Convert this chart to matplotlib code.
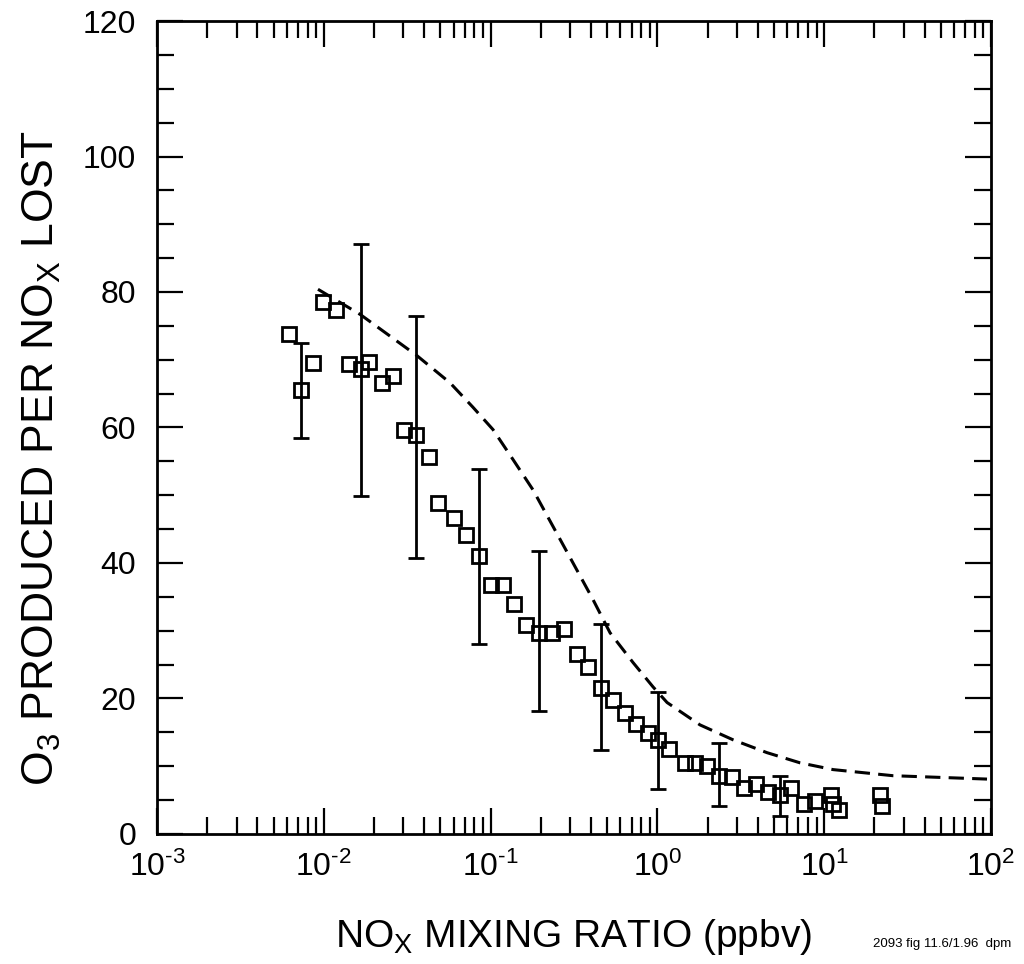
import numpy as np
import matplotlib
matplotlib.use("Agg")
import matplotlib.pyplot as plt
from matplotlib.ticker import LogLocator, MultipleLocator, NullFormatter

plt.rcParams['font.family'] = ['Liberation Sans', 'DejaVu Sans']
plt.rcParams['mathtext.fontset'] = 'custom'
plt.rcParams['mathtext.rm'] = 'Liberation Sans'
plt.rcParams['mathtext.it'] = 'Liberation Sans'
plt.rcParams['mathtext.default'] = 'regular'

# observed O3 production efficiency (squares)
nox_obs = [0.0062, 0.0073, 0.0086, 0.0099, 0.0118, 0.0142, 0.0167, 0.0187, 0.0223, 0.026,
           0.0303, 0.0357, 0.0428, 0.0484, 0.0604, 0.0713, 0.0853, 0.1005, 0.1187, 0.138,
           0.163, 0.195, 0.233, 0.275, 0.33, 0.384, 0.459, 0.542, 0.64, 0.745,
           0.88, 1.01, 1.17, 1.46, 1.68, 1.98, 2.34, 2.8, 3.3, 3.9,
           4.6, 5.43, 6.3, 7.57, 8.8, 11.0, 11.3, 12.3, 21.6, 22.2]
eff_obs = [73.8, 65.5, 69.5, 78.5, 77.4, 69.4, 68.6, 69.7, 66.6, 67.6,
           59.6, 58.9, 55.6, 48.8, 46.6, 44.1, 41.0, 36.7, 36.7, 33.9,
           30.8, 29.6, 29.6, 30.2, 26.6, 24.7, 21.6, 19.8, 17.9, 16.3,
           14.9, 13.8, 12.6, 10.5, 10.5, 10.1, 8.6, 8.4, 6.8, 7.4,
           6.2, 5.8, 6.8, 4.4, 4.9, 5.8, 4.4, 3.55, 5.8, 4.1]

# error bars
nox_err = [0.0073, 0.0167, 0.0357, 0.0853, 0.195, 0.459, 1.01, 2.34, 5.43]
eff_err = [65.5, 68.5, 58.6, 41.0, 30.0, 21.7, 13.8, 8.8, 5.6]
err_half = [7.0, 18.6, 17.9, 12.9, 11.8, 9.3, 7.1, 4.7, 2.9]

# model curve (dashed)
nox_model = [0.00923, 0.0165, 0.0362, 0.0571, 0.0783, 0.1033, 0.136, 0.1795, 0.2366, 0.312,
             0.411, 0.52, 0.7145, 0.942, 1.143, 1.8, 2.84, 4.54, 7.16, 11.3,
             25.8, 94.6]
eff_model = [80.4, 76.7, 70.6, 66.6, 63.0, 59.7, 55.3, 50.8, 45.4, 40.0,
             34.6, 29.7, 25.3, 21.7, 19.4, 16.1, 13.9, 12.0, 10.5, 9.5,
             8.6, 8.1]

fig = plt.figure(figsize=(10.24, 9.64), dpi=100)
ax = fig.add_axes([0.1533, 0.1349, 0.8145, 0.8433])

ax.plot(nox_model, eff_model, color='black', lw=2.2, linestyle=(0, (5, 2.7)))
ax.errorbar(nox_err, eff_err, yerr=err_half, fmt='none', ecolor='black',
            elinewidth=2.0, capsize=5.5, capthick=2.0)
ax.plot(nox_obs, eff_obs, linestyle='none', marker='s', markersize=10,
        markerfacecolor='none', markeredgecolor='black', markeredgewidth=2.0)

ax.set_xscale('log')
ax.set_xlim(1e-3, 1e2)
ax.set_ylim(0, 120)
ax.set_xticks([1e-3, 1e-2, 1e-1, 1e0, 1e1, 1e2])
ax.set_xticklabels([r'$10^{\text{-}3}$', r'$10^{\text{-}2}$', r'$10^{\text{-}1}$',
                    r'$10^{0}$', r'$10^{1}$', r'$10^{2}$'])
ax.xaxis.set_minor_locator(LogLocator(base=10, subs=np.arange(2, 10)))
ax.xaxis.set_minor_formatter(NullFormatter())
ax.yaxis.set_major_locator(MultipleLocator(20))
ax.yaxis.set_minor_locator(MultipleLocator(5))

ax.tick_params(which='both', direction='in', top=True, right=True, width=1.6, labelsize=23)
ax.tick_params(which='major', length=19)
ax.tick_params(which='minor', length=12)
ax.tick_params(axis='y', which='major', pad=15)
ax.tick_params(axis='x', which='major', pad=13)
for s in ax.spines.values():
    s.set_linewidth(2.0)

ax.set_xlabel(r'NO$_X$ MIXING RATIO (ppbv)', fontsize=28, labelpad=24)
ax.set_ylabel(r'O$_3$ PRODUCED PER NO$_X$ LOST', fontsize=32)
ax.yaxis.set_label_coords(-0.113, 0.462)

fig.text(0.853, 0.018, '2093 fig 11.6/1.96  dpm', fontsize=9.5)

fig.savefig('out.png', dpi=100)
